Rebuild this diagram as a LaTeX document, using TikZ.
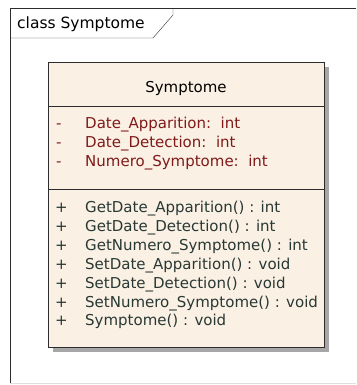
\documentclass[tikz,border=0pt]{standalone}
\usepackage{fontspec}
\setmainfont{DejaVu Sans}
\usetikzlibrary{positioning,shadows}

\definecolor{clsfill}{RGB}{250,240,228}
\definecolor{attrcol}{RGB}{128,26,26}
\definecolor{opcol}{RGB}{40,56,52}
\definecolor{framecol}{RGB}{45,45,45}

\begin{document}
\begin{tikzpicture}[x=1pt, y=-1pt,
	every node/.style={font=\fontsize{15}{18}\selectfont, inner sep=0pt},
	member/.style={anchor=base west},
	attr/.style={member, text=attrcol},
	op/.style={member, text=opcol}]
	\useasboundingbox (0,0) rectangle (356,385);
	% diagram frame and its tab
	\draw[gray!25] (10,383) -- (356,383);
	\draw[framecol] (356,8) -- (10,8) -- (10,383);
	\draw[framecol] (10,38) -- (153,38) -- (173,15) -- (173,8);
	\node[anchor=west, font=\fontsize{15.5}{18}\selectfont] (title) at (17,24) {class Symptome};
	% class box
	\node[draw=framecol, thick, fill=clsfill, minimum width=276pt, minimum height=285pt,
		drop shadow={shadow xshift=5pt, shadow yshift=-5pt, fill=black!35, opacity=1}] (cls) at (186,204.5) {};
	\node (name) at (186,88) {Symptome};
	\draw[framecol] (cls.west |- 0,106) -- (cls.east |- 0,106);
	\draw[framecol] (cls.west |- 0,189) -- (cls.east |- 0,189);
	\foreach \txt [count=\i from 0] in {Date\_Apparition:\ \ int, Date\_Detection:\ \ int, Numero\_Symptome:\ \ int} {
		\node[attr] (vis-a\i) at (56,128.5+19*\i) {-};
		\node[attr] (attr\i) at (85,128.5+19*\i) {\txt};
	}
	\foreach \txt [count=\i from 0] in {GetDate\_Apparition() : int, GetDate\_Detection() : int,
		GetNumero\_Symptome() : int, SetDate\_Apparition() : void, SetDate\_Detection() : void,
		SetNumero\_Symptome() : void, Symptome() : void} {
		\node[op] (vis-o\i) at (55,212.5+18.9*\i) {+};
		\node[op] (op\i) at (85,212.5+18.9*\i) {\txt};
	}
\end{tikzpicture}
\end{document}
